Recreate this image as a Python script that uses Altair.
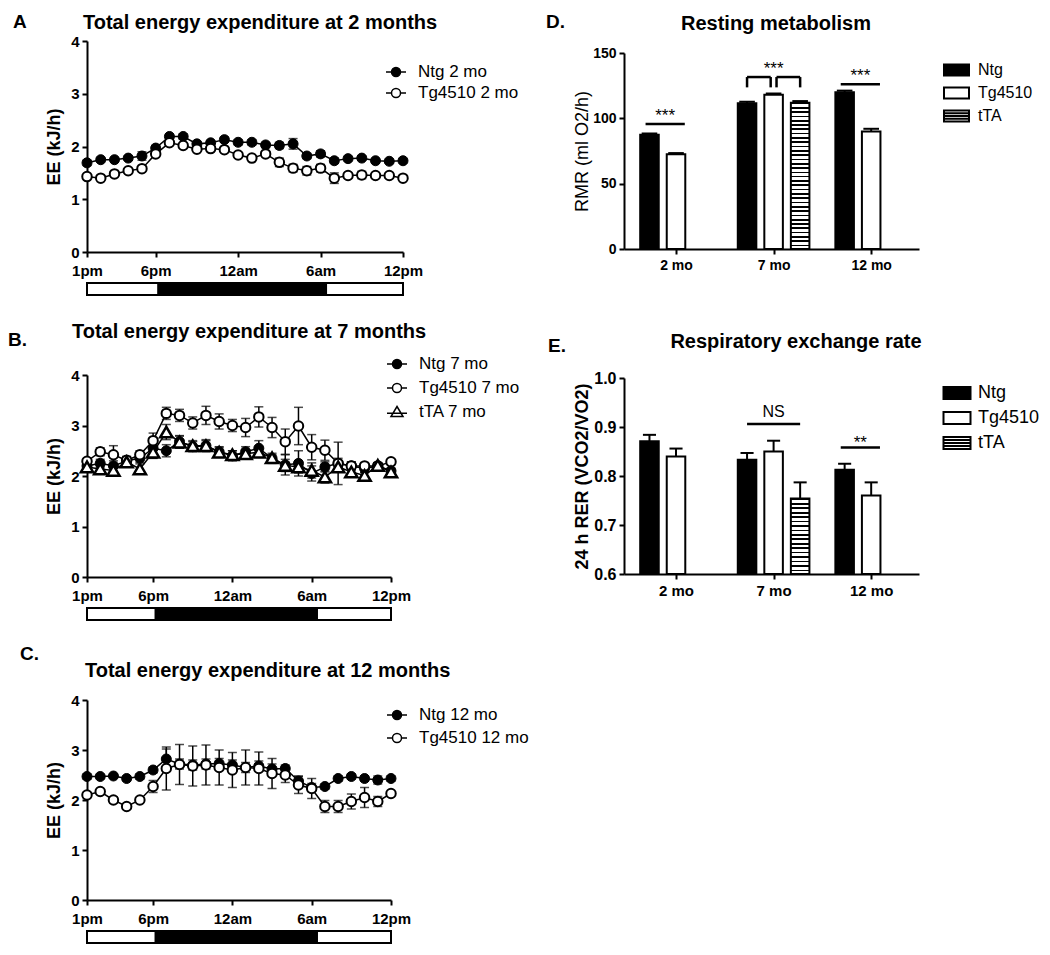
import altair as alt
import pandas as pd

FONT = "Liberation Sans"

# ---------------- Energy expenditure (kJ/h), hourly, 1pm (0) .. 12pm (23)
hours = list(range(24))
tick_hours = [0, 5, 11, 17, 23]
tick_labels = ["1pm", "6pm", "12am", "6am", "12pm"]
phase_start = [0, 5.2, 17.4]
phase_end = [5.2, 17.4, 23]
phase_fill = ["white", "black", "white"]

ntg_2mo = [1.69, 1.75, 1.75, 1.78, 1.82, 1.97, 2.19, 2.19, 2.05, 2.07, 2.13, 2.08,
           2.08, 2.03, 2.02, 2.05, 1.82, 1.86, 1.73, 1.77, 1.78, 1.73, 1.72, 1.73]
ntg_2mo_err = [0.05, 0.04, 0.04, 0.04, 0.08, 0.05, 0.05, 0.05, 0.04, 0.04, 0.05, 0.05,
               0.05, 0.05, 0.06, 0.10, 0.05, 0.06, 0.05, 0.04, 0.04, 0.04, 0.04, 0.04]
tg_2mo = [1.43, 1.40, 1.48, 1.54, 1.58, 1.86, 2.07, 2.02, 1.95, 1.96, 1.94, 1.84,
          1.78, 1.86, 1.70, 1.59, 1.54, 1.59, 1.40, 1.45, 1.46, 1.45, 1.45, 1.40]
tg_2mo_err = [0.04, 0.03, 0.04, 0.04, 0.04, 0.05, 0.04, 0.04, 0.04, 0.04, 0.04, 0.04,
              0.04, 0.04, 0.08, 0.07, 0.08, 0.07, 0.10, 0.05, 0.07, 0.05, 0.05, 0.04]

ntg_7mo = [2.20, 2.25, 2.20, 2.30, 2.35, 2.55, 2.50, 2.68, 2.58, 2.60, 2.48, 2.40,
           2.48, 2.55, 2.35, 2.22, 2.25, 2.05, 2.18, 2.25, 2.20, 2.15, 2.20, 2.10]
ntg_7mo_err = [0.06, 0.08, 0.10, 0.08, 0.08, 0.20, 0.12, 0.12, 0.10, 0.10, 0.10, 0.10,
               0.10, 0.15, 0.10, 0.20, 0.25, 0.15, 0.10, 0.10, 0.08, 0.08, 0.06, 0.06]
tg_7mo = [2.29, 2.48, 2.42, 2.31, 2.42, 2.70, 3.24, 3.20, 3.05, 3.20, 3.08, 3.00,
          2.96, 3.17, 2.96, 2.68, 2.99, 2.57, 2.51, 2.25, 2.20, 2.20, 2.20, 2.28]
tg_7mo_err = [0.05, 0.08, 0.18, 0.08, 0.08, 0.15, 0.12, 0.12, 0.12, 0.18, 0.15, 0.12,
              0.18, 0.20, 0.20, 0.25, 0.37, 0.25, 0.20, 0.42, 0.08, 0.06, 0.05, 0.05]
tta_7mo = [2.18, 2.14, 2.11, 2.28, 2.14, 2.47, 2.87, 2.67, 2.60, 2.60, 2.47, 2.42,
           2.44, 2.47, 2.36, 2.21, 2.18, 2.11, 1.98, 2.18, 2.08, 2.01, 2.21, 2.08]
tta_7mo_err = [0.05, 0.06, 0.08, 0.06, 0.10, 0.12, 0.15, 0.12, 0.10, 0.12, 0.10, 0.08,
               0.08, 0.10, 0.06, 0.12, 0.12, 0.15, 0.12, 0.08, 0.08, 0.06, 0.05, 0.05]

ntg_12mo = [2.47, 2.47, 2.48, 2.43, 2.47, 2.60, 2.82, 2.72, 2.70, 2.72, 2.73, 2.70,
            2.65, 2.68, 2.62, 2.63, 2.38, 2.25, 2.27, 2.43, 2.47, 2.43, 2.40, 2.43]
ntg_12mo_err = [0.05, 0.04, 0.04, 0.04, 0.05, 0.06, 0.20, 0.10, 0.10, 0.10, 0.10, 0.10,
                0.10, 0.10, 0.10, 0.07, 0.10, 0.08, 0.05, 0.05, 0.05, 0.05, 0.08, 0.05]
tg_12mo = [2.10, 2.17, 2.00, 1.87, 2.00, 2.27, 2.63, 2.71, 2.68, 2.70, 2.65, 2.60,
           2.65, 2.63, 2.53, 2.50, 2.30, 2.23, 1.87, 1.87, 1.97, 2.05, 1.97, 2.13]
tg_12mo_err = [0.05, 0.03, 0.06, 0.05, 0.04, 0.12, 0.43, 0.40, 0.40, 0.40, 0.35, 0.35,
               0.35, 0.33, 0.30, 0.15, 0.17, 0.20, 0.12, 0.12, 0.15, 0.20, 0.10, 0.04]

# ---------------- Bar panels
age_groups = ["2 mo", "7 mo", "12 mo"]
genotypes = ["Ntg", "Tg4510", "tTA"]

rmr_ntg = [87.4, 111.5, 120.0]
rmr_ntg_err = [1.0, 1.2, 1.2]
rmr_tg = [72.6, 118.0, 90.0]
rmr_tg_err = [0.8, 1.0, 2.0]
rmr_tta = [None, 112.0, None]
rmr_tta_err = [None, 1.2, None]

rer_ntg = [0.871, 0.833, 0.813]
rer_ntg_err = [0.013, 0.014, 0.012]
rer_tg = [0.840, 0.850, 0.760]
rer_tg_err = [0.016, 0.022, 0.027]
rer_tta = [None, 0.754, None]
rer_tta_err = [None, 0.033, None]

# significance: (age group, from genotype, to genotype, y, label)
rmr_sig_lines = [("2 mo", "Ntg", "Tg4510", 95.6, "***"), ("12 mo", "Ntg", "Tg4510", 126.0, "***")]
rmr_brackets = [("7 mo", "Ntg", "Tg4510", 123.7, 131.6), ("7 mo", "Tg4510", "tTA", 123.7, 131.6)]
rmr_bracket_label = ("7 mo", "Tg4510", 131.6, "***")
rer_sig_lines = [("7 mo", "Ntg", "tTA", 0.906, "NS"), ("12 mo", "Ntg", "Tg4510", 0.858, "**")]

SLOT = {"Ntg": -0.272, "Tg4510": 0.0, "tTA": 0.272}
BAR_HALF = 0.095


def label_expr(values, labels):
    expr = "''"
    for v, l in reversed(list(zip(values, labels))):
        expr = f"datum.value == {v} ? '{l}' : {expr}"
    return expr


def text_layer(s, x, y, size, weight="bold", align="left"):
    return alt.Chart(pd.DataFrame({"t": [s]})).mark_text(
        align=align, baseline="alphabetic", fontSize=size, fontWeight=weight,
        font=FONT, color="black").encode(text="t:N", x=alt.value(x), y=alt.value(y))


CIRCLE_LEG = ("M-1,0H-0.45M0.45,0H1M-0.45,0A0.45,0.45 0 1,0 0.45,0"
              "A0.45,0.45 0 1,0 -0.45,0Z")
TRI_LEG = "M-1,0.12H1M0,-0.55L0.6,0.45L-0.6,0.45Z"


def ee_panel(series, w, h, letter, letter_xy, title, title_xy, leg_xy, leg_pad, key):
    rows = []
    for name, vals, errs, *_ in series:
        for hr, v, e in zip(hours, vals, errs):
            rows.append({"hour": hr, "ee": v, "lo": v - e, "hi": v + e, "series": name})
    df = pd.DataFrame(rows)
    names = [s[0] for s in series]
    xs = alt.Scale(domain=[0, 23], nice=False, zero=False)
    ys = alt.Scale(domain=[0, 4], nice=False)
    xax = alt.Axis(values=tick_hours, labelExpr=label_expr(tick_hours, tick_labels),
                   title=None, labelFontSize=15, labelFontWeight="bold", labelPadding=6,
                   labelFlush=False)
    yax = alt.Axis(values=[0, 1, 2, 3, 4], title="EE (kJ/h)", titleFontSize=18,
                   titleFontWeight="bold", titlePadding=7, labelFontSize=15,
                   labelFontWeight="bold", format="d", labelPadding=3)
    X = alt.X("hour:Q", scale=xs, axis=xax)

    phases = alt.Chart(pd.DataFrame({"start": phase_start, "end": phase_end,
                                     "fill": phase_fill})).mark_rect(
        stroke="black", strokeWidth=2).encode(
        x=alt.X("start:Q", scale=xs, axis=xax), x2="end:Q",
        y=alt.value(h + 31), y2=alt.value(h + 43),
        fill=alt.Fill("fill:N", scale=None))

    layers = [phases]
    for name, vals, errs, shape, fill, size, sw in series:
        sdf = df[df.series == name]
        b = alt.Chart(sdf)
        layers.append(b.mark_rule(color="black", strokeWidth=1.5).encode(
            x=X, y=alt.Y("lo:Q", scale=ys, axis=yax), y2="hi:Q"))
        for fld in ["lo", "hi"]:
            layers.append(b.mark_tick(color="black", orient="horizontal", size=9,
                                      thickness=1.5).encode(
                x=X, y=alt.Y(f"{fld}:Q", scale=ys, axis=yax)))
        layers.append(b.mark_line(color="black", strokeWidth=1.5).encode(
            x=X, y=alt.Y("ee:Q", scale=ys, axis=yax), order="hour:Q"))
    for name, vals, errs, shape, fill, size, sw in series:
        sdf = df[df.series == name]
        layers.append(alt.Chart(sdf).mark_point(
            shape=shape, size=size, fill=fill, stroke="black", strokeWidth=sw,
            opacity=1, fillOpacity=1).encode(
            x=X, y=alt.Y("ee:Q", scale=ys, axis=yax)))

    legp = dict(orient="none", legendX=leg_xy[0], legendY=leg_xy[1], title=None,
                labelFont=FONT, labelFontSize=17, labelColor="black", symbolSize=400,
                symbolStrokeColor="black", symbolStrokeWidth=1.5, symbolOpacity=1,
                rowPadding=leg_pad, labelOffset=11, padding=0)
    paths = [TRI_LEG if s[3] == "triangle-up" else CIRCLE_LEG for s in series]
    fills = [s[4] for s in series]
    fld = f"lab_{key}"
    leg = alt.Chart(pd.DataFrame({fld: names})).transform_filter("false").mark_point(
        opacity=1, stroke="black").encode(
        shape=alt.Shape(f"{fld}:N", scale=alt.Scale(domain=names, range=paths),
                        legend=alt.Legend(**legp)),
        fill=alt.Fill(f"{fld}:N", scale=alt.Scale(domain=names, range=fills),
                      legend=alt.Legend(**legp)))
    layers.append(leg)
    layers.append(text_layer(letter, letter_xy[0], letter_xy[1], 19))
    layers.append(text_layer(title, title_xy[0], title_xy[1], 20))
    return alt.layer(*layers).properties(width=w, height=h)


def stripe_gradient(n):
    stops = []
    for k in range(n):
        a, b, c = k / n, (k + 0.38) / n, (k + 1) / n
        stops += [{"offset": a, "color": "black"}, {"offset": b, "color": "black"},
                  {"offset": b, "color": "white"}, {"offset": c, "color": "white"}]
    return {"gradient": "linear", "x1": 0, "y1": 0, "x2": 0, "y2": 1, "stops": stops}


RECT_LEG = "M-1,-0.44L1,-0.44L1,0.44L-1,0.44Z"
STRIPE_LEG = ("M-1,-0.44L1,-0.44L1,0.44L-1,0.44Z"
              "M-1,-0.22L1,-0.22M-1,0L1,0M-1,0.22L1,0.22")


def bar_panel(values, errs, base, ydomain, yticks, yfmt, h, rtop, ytitle, ytw,
              ytsize, ylsize, xlsize, tpad, cap_half, n_stripes, sig_lines,
              brackets, bracket_label, letter, letter_xy, title, title_xy, leg_xy,
              leg_size, leg_pad, leg_font, leg_off, sig_dy, sig_size, key):
    rows = []
    for gi, grp in enumerate(age_groups):
        for geno in genotypes:
            v = values[geno][gi]
            if v is None:
                continue
            e = errs[geno][gi]
            pos = gi + SLOT[geno]
            rows.append({"grp": grp, "geno": geno, "val": v, "hi": v + e, "base": base,
                         "x0": pos - BAR_HALF, "x1": pos + BAR_HALF, "xc": pos,
                         "c0": pos - cap_half, "c1": pos + cap_half})
    df = pd.DataFrame(rows)
    xs = alt.Scale(domain=[-0.533, 2.49], nice=False, zero=False)
    ys = alt.Scale(domain=ydomain, nice=False, zero=False, range=[h, rtop])
    xax = alt.Axis(values=[0, 1, 2], labelExpr=label_expr([0, 1, 2], age_groups),
                   title=None, labelFontSize=xlsize, labelFontWeight="bold",
                   labelPadding=4)
    yax = alt.Axis(values=yticks, format=yfmt, title=ytitle, titleFontSize=ytsize,
                   titleFontWeight=ytw, titlePadding=tpad, labelFontSize=ylsize,
                   labelFontWeight="bold", labelPadding=3)
    Y = alt.Y("val:Q", scale=ys, axis=yax)
    layers = []
    b = alt.Chart(df)
    layers.append(b.mark_rule(color="black", strokeWidth=2).encode(
        x=alt.X("xc:Q", scale=xs, axis=xax), y=Y, y2="hi:Q"))
    layers.append(b.mark_rule(color="black", strokeWidth=2).encode(
        x=alt.X("c0:Q", scale=xs, axis=xax), x2="c1:Q",
        y=alt.Y("hi:Q", scale=ys, axis=yax)))
    fills = {"Ntg": "black", "Tg4510": "white", "tTA": stripe_gradient(n_stripes)}
    for geno in genotypes:
        layers.append(alt.Chart(df[df.geno == geno]).mark_rect(
            fill=fills[geno], stroke="black", strokeWidth=2).encode(
            x=alt.X("x0:Q", scale=xs, axis=xax), x2="x1:Q", y=Y, y2="base:Q"))

    srows = []
    for grp, g1, g2, yv, lab in sig_lines:
        gi = age_groups.index(grp)
        if lab == "NS":
            a, c = gi + SLOT[g1], gi + SLOT[g2]
        else:
            a, c = gi + SLOT[g1] - 0.04, gi + SLOT[g2] + 0.09
        srows.append({"a": a, "c": c, "y": yv, "lab": lab, "m": (a + c) / 2})
    sdf = pd.DataFrame(srows)
    layers.append(alt.Chart(sdf).mark_rule(color="black", strokeWidth=2.5).encode(
        x=alt.X("a:Q", scale=xs, axis=xax), x2="c:Q",
        y=alt.Y("y:Q", scale=ys, axis=yax)))
    for lab_kind in sorted(set(sdf.lab)):
        sub = sdf[sdf.lab == lab_kind]
        is_ns = lab_kind == "NS"
        layers.append(alt.Chart(sub).mark_text(
            baseline="alphabetic", align="center", font=FONT, color="black",
            fontSize=16 if is_ns else sig_size, fontWeight="normal",
            dy=-7 if is_ns else sig_dy).encode(
            x=alt.X("m:Q", scale=xs, axis=xax), y=alt.Y("y:Q", scale=ys, axis=yax),
            text="lab:N"))
    if brackets:
        brow, vrow = [], []
        for grp, g1, g2, ylo, yhi in brackets:
            gi = age_groups.index(grp)
            a = gi + SLOT[g1] + (0.03 if g1 == "Tg4510" else 0)
            c = gi + SLOT[g2] - (0.03 if g2 == "Tg4510" else 0)
            brow.append({"a": a, "c": c, "y": yhi})
            vrow += [{"x": a, "y0": ylo, "y1": yhi}, {"x": c, "y0": ylo, "y1": yhi}]
        layers.append(alt.Chart(pd.DataFrame(brow)).mark_rule(
            color="black", strokeWidth=2.5).encode(
            x=alt.X("a:Q", scale=xs, axis=xax), x2="c:Q",
            y=alt.Y("y:Q", scale=ys, axis=yax)))
        layers.append(alt.Chart(pd.DataFrame(vrow)).mark_rule(
            color="black", strokeWidth=2.5).encode(
            x=alt.X("x:Q", scale=xs, axis=xax),
            y=alt.Y("y0:Q", scale=ys, axis=yax), y2="y1:Q"))
        grp, geno, yv, lab = bracket_label
        gi = age_groups.index(grp)
        layers.append(alt.Chart(pd.DataFrame({"m": [gi + SLOT[geno]], "y": [yv],
                                              "lab": [lab]})).mark_text(
            baseline="alphabetic", align="center", font=FONT, color="black",
            fontSize=sig_size, dy=sig_dy).encode(
            x=alt.X("m:Q", scale=xs, axis=xax), y=alt.Y("y:Q", scale=ys, axis=yax),
            text="lab:N"))

    legp = dict(orient="none", legendX=leg_xy[0], legendY=leg_xy[1], title=None,
                labelFont=FONT, labelFontSize=leg_font, labelColor="black",
                symbolSize=leg_size, symbolStrokeColor="black", symbolStrokeWidth=2,
                symbolOpacity=1, rowPadding=leg_pad, labelOffset=leg_off, padding=0)
    fld = f"lab_{key}"
    leg = alt.Chart(pd.DataFrame({fld: genotypes})).transform_filter("false").mark_point(
        opacity=1, stroke="black", filled=False).encode(
        shape=alt.Shape(f"{fld}:N", scale=alt.Scale(
            domain=genotypes, range=[RECT_LEG, RECT_LEG, STRIPE_LEG]),
            legend=alt.Legend(**legp)),
        fill=alt.Fill(f"{fld}:N", scale=alt.Scale(
            domain=genotypes, range=["black", "white", "white"]),
            legend=alt.Legend(**legp)),
        stroke=alt.Stroke(f"{fld}:N", scale=alt.Scale(
            domain=genotypes, range=["black", "black", "black"]),
            legend=alt.Legend(**legp)))
    layers.append(leg)
    layers.append(text_layer(letter, letter_xy[0], letter_xy[1], 19))
    layers.append(text_layer(title, title_xy[0], title_xy[1], 20, align="center"))
    return alt.layer(*layers).properties(width=295, height=h)


panel_a = ee_panel(
    [("Ntg 2 mo", ntg_2mo, ntg_2mo_err, "circle", "black", 100, 1),
     ("Tg4510 2 mo", tg_2mo, tg_2mo_err, "circle", "white", 90, 2)],
    316, 211, "A", (-74, -13), "Total energy expenditure at 2 months", (-4, -12),
    (298, 20), 2, "a")
panel_b = ee_panel(
    [("Ntg 7 mo", ntg_7mo, ntg_7mo_err, "circle", "black", 100, 1),
     ("Tg4510 7 mo", tg_7mo, tg_7mo_err, "circle", "white", 90, 2),
     ("tTA 7 mo", tta_7mo, tta_7mo_err, "triangle-up", "white", 150, 2.5)],
    304, 202, "B.", (-79, -29), "Total energy expenditure at 7 months", (-15, -37),
    (299, -22), 5, "b")
panel_c = ee_panel(
    [("Ntg 12 mo", ntg_12mo, ntg_12mo_err, "circle", "black", 100, 1),
     ("Tg4510 12 mo", tg_12mo, tg_12mo_err, "circle", "white", 90, 2)],
    304, 200, "C.", (-67, -40), "Total energy expenditure at 12 months", (-2, -23),
    (299, 4), 4, "c")

panel_d = bar_panel(
    {"Ntg": rmr_ntg, "Tg4510": rmr_tg, "tTA": rmr_tta},
    {"Ntg": rmr_ntg_err, "Tg4510": rmr_tg_err, "tTA": rmr_tta_err},
    0, [0, 150], [0, 50, 100, 150], "d", 208, 12, "RMR (ml O2/h)", "normal",
    18, 14, 14, 1, 0.08, 34, rmr_sig_lines, rmr_brackets, rmr_bracket_label,
    "D.", (-78, -13), "Resting metabolism", (152, -11), (319, 15.5), 625, -4.5,
    16, 8, -3, 17, "d")
panel_e = bar_panel(
    {"Ntg": rer_ntg, "Tg4510": rer_tg, "tTA": rer_tta},
    {"Ntg": rer_ntg_err, "Tg4510": rer_tg_err, "tTA": rer_tta_err},
    0.6, [0.6, 1.0], [0.6, 0.7, 0.8, 0.9, 1.0], ".1f", 199, 3,
    "24 h RER (VCO2/VO2)", "bold", 18, 16, 15, 2, 0.067, 17, rer_sig_lines, [], None,
    "E.", (-76, -23), "Respiratory exchange rate", (172, -27), (318.5, 3.5), 729, -5.5,
    18, 6.5, 0, 17, "e")

chart = alt.concat(panel_a, panel_d, panel_b, panel_e, panel_c, columns=2,
                   spacing={"row": 123, "column": 221}, bounds="flush", align="each"
                   ).resolve_scale(shape="independent", fill="independent",
                                   stroke="independent").properties(
    padding={"left": 0, "top": 5, "right": 0, "bottom": 5}
).configure_view(stroke=None).configure_axis(
    domainColor="black", domainWidth=2, tickColor="black", tickWidth=2, tickSize=5,
    labelColor="black", titleColor="black", labelFont=FONT, titleFont=FONT, grid=False
).configure_legend(labelFont=FONT)

chart.save("out.html", embed_options={"renderer": "svg", "actions": False})
